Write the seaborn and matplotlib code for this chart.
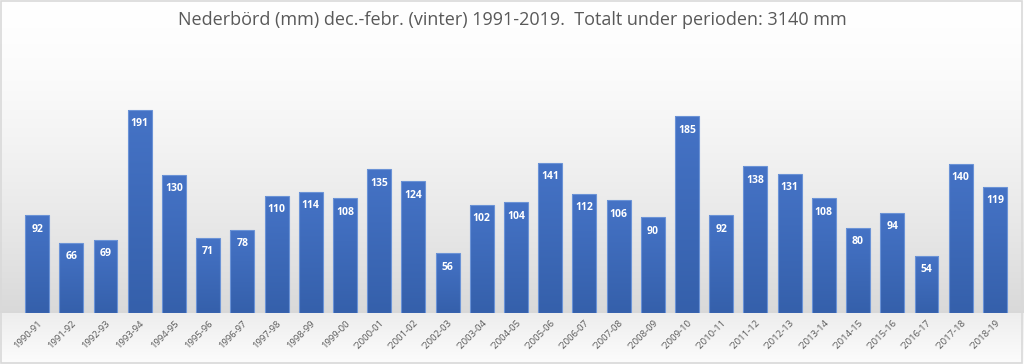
import numpy as np
import pandas as pd
import matplotlib
matplotlib.use("Agg")
import matplotlib.pyplot as plt
from matplotlib.patches import Rectangle
from matplotlib.colors import LinearSegmentedColormap
import seaborn as sns

# Data
seasons = ["1990-91", "1991-92", "1992-93", "1993-94", "1994-95", "1995-96", "1996-97",
           "1997-98", "1998-99", "1999-00", "'2000-01", "'2001-02", "'2002-03", "'2003-04",
           "'2004-05", "'2005-06", "'2006-07", "'2007-08", "'2008-09", "'2009-10", "'2010-11",
           "'2011-12", "'2012-13", "'2013-14", "'2014-15", "'2015-16", "'2016-17", "'2017-18",
           "'2018-19"]
precip_mm = [92, 66, 69, 191, 130, 71, 78, 110, 114, 108, 135, 124, 56, 102, 104, 141,
             112, 106, 90, 185, 92, 138, 131, 108, 80, 94, 54, 140, 119]
title = "Nederbörd (mm) dec.-febr. (vinter) 1991-2019.  Totalt under perioden: 3140 mm"

df = pd.DataFrame({"season": seasons, "mm": precip_mm})

sns.set_theme(style="white")
plt.rcParams["font.family"] = ["Open Sans", "DejaVu Sans"]

W, H = 1024, 364
fig = plt.figure(figsize=(W / 100, H / 100), dpi=100)

# background gradient (whole figure), row 0 = top
bg = fig.add_axes([0, 0, 1, 1], zorder=0)
rows = np.linspace(0, 1, 364)[:, None]
upper = 1.0 - 0.15 * np.clip(rows / 0.86, 0, 1) ** 1.5
floor = 0.93 + 0.06 * np.clip((rows - 0.86) / 0.14, 0, 1)
shade = np.where(rows < 0.86, upper, floor)
img = np.repeat(shade, 2, axis=1)
bg.imshow(np.dstack([img, img, img]), aspect="auto", extent=[0, 1, 0, 1])
bg.set_xlim(0, 1)
bg.set_ylim(0, 1)
bg.axis("off")

ax = fig.add_axes([20 / W, 51 / H, 992 / W, 212.6 / H], zorder=1)
ax.patch.set_alpha(0)
sns.barplot(data=df, x="season", y="mm", color="#3f6bbd", width=0.7,
            edgecolor="#6b93d6", linewidth=0.8, saturation=1, ax=ax)

ax.set_ylim(0, 200)
ax.set_xlim(-0.5, len(seasons) - 0.5)

# vertical gradient inside each bar
bar_cmap = LinearSegmentedColormap.from_list("bar", ["#3560ab", "#4573c6"])
grad = np.linspace(1, 0, 100)[:, None]
for p in ax.patches:
    x0, w, h = p.get_x(), p.get_width(), p.get_height()
    im = ax.imshow(grad, cmap=bar_cmap, aspect="auto", extent=[x0, x0 + w, 0, h],
                   zorder=p.get_zorder() - 0.1)
    im.set_clip_path(p)
    p.set_facecolor("none")
ax.set_xlim(-0.5, len(seasons) - 0.5)
ax.set_ylim(0, 200)
ax.set_aspect("auto")

for p, v in zip(ax.patches, precip_mm):
    ax.text(p.get_x() + p.get_width() / 2, v - 13, str(v), ha="center", va="center",
            color="white", fontsize=7.5, fontweight="bold")

ax.set_xlabel("")
ax.set_ylabel("")
ax.set_yticks([])
ax.tick_params(axis="x", length=0, pad=4)
plt.setp(ax.get_xticklabels(), rotation=45, ha="right", rotation_mode="anchor",
         fontsize=6.8, color="#595959")
for s in ax.spines.values():
    s.set_visible(False)

fig.text(0.5, 1 - 20 / H, title, ha="center", va="center", fontsize=13, color="#595959")

fig.patches.append(Rectangle((0.001, 0.002), 0.997, 0.995, transform=fig.transFigure,
                             fill=False, edgecolor="#d9d9d9", linewidth=1.2))

fig.savefig("out.png", dpi=100)
